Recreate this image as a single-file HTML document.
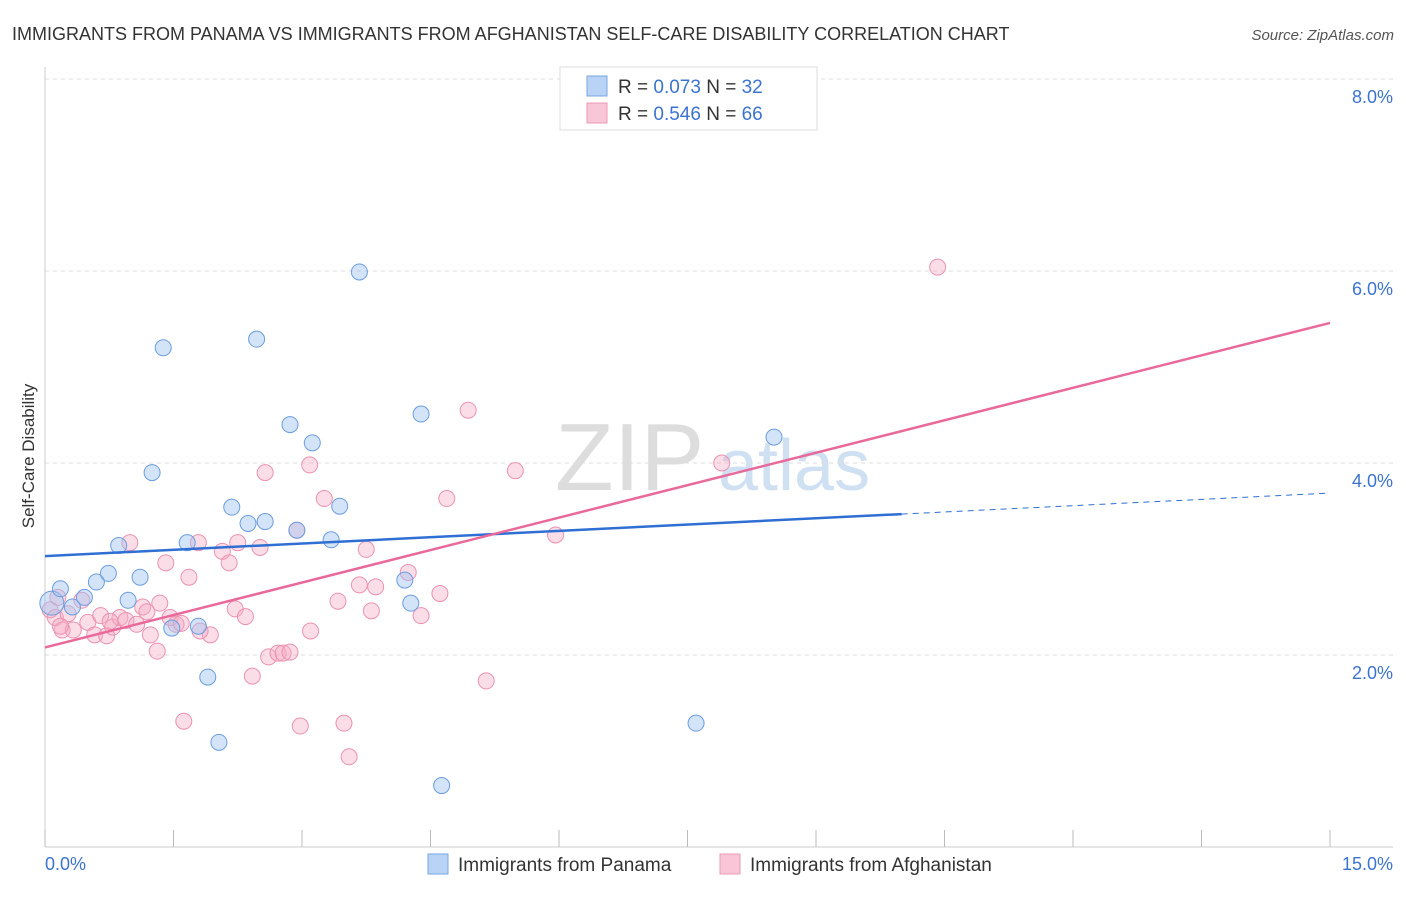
<!DOCTYPE html>
<html><head><meta charset="utf-8"><style>
body{margin:0;background:#fff;font-family:"Liberation Sans",sans-serif;}
svg text{font-family:"Liberation Sans",sans-serif;}
</style></head><body>
<svg width="1406" height="892" xmlns="http://www.w3.org/2000/svg">
<text x="12" y="40" font-size="18" fill="#333">IMMIGRANTS FROM PANAMA VS IMMIGRANTS FROM AFGHANISTAN SELF-CARE DISABILITY CORRELATION CHART</text>
<text x="1394" y="40" font-size="15" fill="#555" font-style="italic" text-anchor="end">Source: ZipAtlas.com</text>
<text x="555" y="490" font-size="96" fill="#ddd" font-family="Liberation Serif">ZIP</text>
<text x="718" y="490" font-size="72" fill="#cfe0f3">atlas</text>
<g id="grid"></g>
<g id="axes"></g>
<g id="pts"></g>
<g id="lines"></g>
<text transform="translate(34,456) rotate(-90)" font-size="17" fill="#333" text-anchor="middle">Self-Care Disability</text>
<text x="45" y="870" font-size="18" fill="#3b73d1">0.0%</text>
<text x="1393" y="870" font-size="18" fill="#3b73d1" text-anchor="end">15.0%</text>
<g>
<rect x="560" y="67" width="257" height="63" fill="#fff" stroke="#ddd"/>
<rect x="587" y="76" width="20" height="20" fill="#b8d3f5" stroke="#7aa7e0"/>
<rect x="587" y="103" width="20" height="20" fill="#f8c6d6" stroke="#ec9ab5"/>
<text x="618" y="93" font-size="19" fill="#333">R = <tspan fill="#3b73d1">0.073</tspan>   N = <tspan fill="#3b73d1">32</tspan></text>
<text x="618" y="120" font-size="19" fill="#333">R = <tspan fill="#3b73d1">0.546</tspan>   N = <tspan fill="#3b73d1">66</tspan></text>
</g>
<g>
<rect x="428" y="854" width="20" height="20" fill="#b8d3f5" stroke="#7aa7e0"/>
<text x="458" y="871" font-size="19" fill="#333">Immigrants from Panama</text>
<rect x="720" y="854" width="20" height="20" fill="#f8c6d6" stroke="#ec9ab5"/>
<text x="750" y="871" font-size="19" fill="#333">Immigrants from Afghanistan</text>
</g>
</svg>
<script>
const yTicks=[2,4,6,8];
const yTickLabels=["2.0%","4.0%","6.0%","8.0%"];
const xTicks=[0,1.5,3,4.5,6,7.5,9,10.5,12,13.5,15];
const panamaX=[0.08,0.18,0.32,0.46,0.6,0.74,0.86,0.97,1.11,1.25,1.38,1.48,1.66,1.79,1.9,2.03,2.18,2.37,2.47,2.57,2.86,2.94,3.12,3.34,3.44,3.67,4.2,4.27,4.39,4.63,7.6,8.51];
const panamaY=[2.54,2.69,2.5,2.6,2.76,2.85,3.14,2.57,2.81,3.9,5.2,2.28,3.17,2.3,1.77,1.09,3.54,3.37,5.29,3.39,4.4,3.3,4.21,3.2,3.55,5.99,2.78,2.54,4.51,0.64,1.29,4.27];
const afgX=[0.06,0.12,0.2,0.27,0.33,0.43,0.5,0.58,0.65,0.72,0.79,0.875,0.945,0.99,1.07,1.14,1.19,1.23,1.31,1.34,1.41,1.46,1.53,1.59,1.62,1.68,1.79,1.93,2.07,2.15,2.22,2.25,2.42,2.51,2.57,2.61,2.72,2.78,2.86,2.94,2.98,3.09,3.1,3.26,3.42,3.49,3.55,3.67,3.75,3.81,3.86,4.24,4.39,4.61,4.69,4.94,5.15,5.49,5.96,7.9,10.42,0.18,0.76,1.81,0.15,2.34];
const afgY=[2.47,2.39,2.26,2.43,2.26,2.57,2.34,2.21,2.41,2.2,2.29,2.39,2.36,3.17,2.32,2.5,2.45,2.21,2.04,2.54,2.96,2.39,2.32,2.33,1.31,2.81,3.17,2.21,3.08,2.96,2.48,3.17,1.78,3.12,3.9,1.98,2.02,2.02,2.03,3.3,1.26,3.98,2.25,3.63,2.56,1.29,0.94,2.73,3.1,2.46,2.71,2.86,2.41,2.64,3.63,4.55,1.73,3.92,3.25,4.0,6.04,2.3,2.35,2.25,2.6,2.4];
const X0=45,X1=1330,Y0=847,PXY=96;
const sx=v=>X0+(X1-X0)*v/15, sy=v=>Y0-v*PXY;
const NS="http://www.w3.org/2000/svg";
function mk(t,a,p){const e=document.createElementNS(NS,t);for(const k in a)e.setAttribute(k,a[k]);document.getElementById(p).appendChild(e);return e;}
yTicks.forEach((t,i)=>{
 const l=mk("line",{x1:X0,x2:1393,y1:sy(t),y2:sy(t),stroke:"#ddd","stroke-dasharray":"4,4"},"grid");
 
 
 const tx=mk("text",{x:1393,y:sy(t)+24,"font-size":18,fill:"#3b73d1","text-anchor":"end"},"grid");
 tx.textContent=yTickLabels[i];
 
 
});
const ax=mk("line",{x1:X0,x2:1393,y1:Y0,y2:Y0,stroke:"#ccc"},"axes");


const ay=mk("line",{x1:X0,x2:X0,y1:67,y2:Y0,stroke:"#ccc"},"axes");


xTicks.forEach(t=>{const l=mk("line",{x1:sx(t),x2:sx(t),y1:830,y2:Y0,stroke:"#bbb"},"axes");
 
 });
afgX.forEach((x,i)=>{const c=mk("circle",{cx:sx(x),cy:sy(afgY[i]),r:8,fill:"rgba(245,170,195,0.4)",stroke:"#eb92b0","stroke-width":1},"pts");
 
 });
panamaX.forEach((x,i)=>{const c=mk("circle",{cx:sx(x),cy:sy(panamaY[i]),r:i==0?12:8,fill:"rgba(160,195,240,0.45)",stroke:"#6b9de0","stroke-width":1},"pts");
 
 });
function fit(xs,ys){const n=xs.length;let mx=0,my=0;xs.forEach((x,i)=>{mx+=x;my+=ys[i];});mx/=n;my/=n;let a=0,b=0;xs.forEach((x,i)=>{a+=(x-mx)*(ys[i]-my);b+=(x-mx)**2;});const s=a/b;return [my-s*mx,s];}
const pf=fit(panamaX,panamaY), af=fit(afgX,afgY);
const xmaxP=Math.max(...panamaX), xmaxA=Math.max(...afgX);
let e=mk("line",{x1:sx(0),y1:sy(pf[0]),x2:sx(10),y2:sy(pf[0]+pf[1]*10),stroke:"#2f6fd4","stroke-width":2.5},"lines");


e=mk("line",{x1:sx(10),y1:sy(pf[0]+pf[1]*10),x2:sx(15),y2:sy(pf[0]+pf[1]*15),stroke:"#2f6fd4","stroke-width":1,"stroke-dasharray":"6,5"},"lines");


e=mk("line",{x1:sx(0),y1:sy(af[0]),x2:sx(15),y2:sy(af[0]+af[1]*15),stroke:"#e8699a","stroke-width":2.5},"lines");


</script>
</body></html>
